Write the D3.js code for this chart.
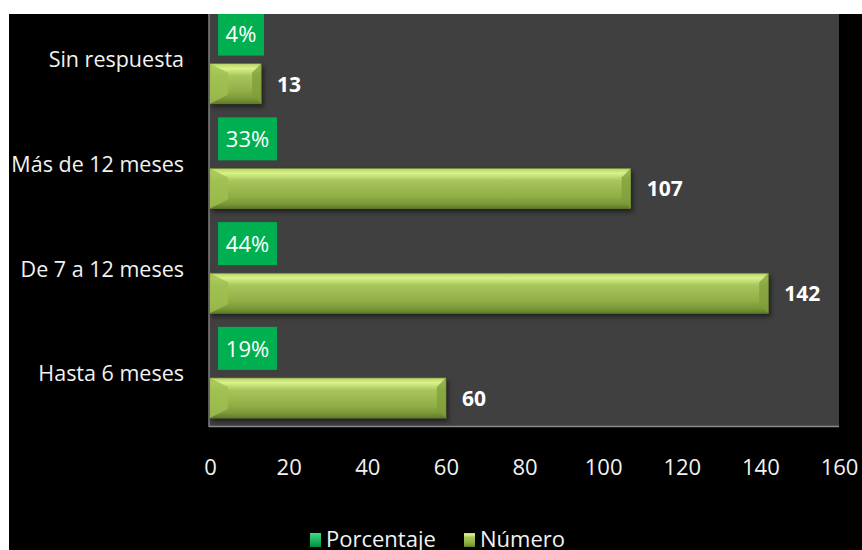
<!DOCTYPE html>
<html>
<head>
<meta charset="utf-8" />
<title>Tiempo</title>
<style>
html, body {
  margin: 0;
  padding: 0;
  background-color: #FFFFFF;
}
svg { display: block; }
text { font-family: "Open Sans", "Noto Sans", sans-serif; }
</style>
<script src="https://cdn.jsdelivr.net/npm/d3@7/dist/d3.min.js"></script>
</head>
<body>
<script>
// datos
var categorias = ["Sin respuesta", "Más de 12 meses", "De 7 a 12 meses", "Hasta 6 meses"];
var numero = [13, 107, 142, 60];
var porcentaje = [4, 33, 44, 19];
var series = ["Porcentaje", "Número"];
var ticks = [0, 20, 40, 60, 80, 100, 120, 140, 160];

var W = 862, H = 550;
var plot = {left: 209, right: 839, top: 7, bottom: 426};

var svg = d3.select("body").append("svg")
  .attr("width", W)
  .attr("height", H);

var defs = svg.append("defs");

var g1 = defs.append("linearGradient").attr("id", "olive")
  .attr("x1", 0).attr("y1", 0).attr("x2", 0).attr("y2", 1);
g1.append("stop").attr("offset", "0%").attr("stop-color", "#b7d36a");
g1.append("stop").attr("offset", "12%").attr("stop-color", "#d9f28a");
g1.append("stop").attr("offset", "30%").attr("stop-color", "#a9c65c");
g1.append("stop").attr("offset", "70%").attr("stop-color", "#8fae45");
g1.append("stop").attr("offset", "88%").attr("stop-color", "#7a9838");
g1.append("stop").attr("offset", "100%").attr("stop-color", "#5f7a28");

var g2 = defs.append("linearGradient").attr("id", "greenMk")
  .attr("x1", 0).attr("y1", 0).attr("x2", 0).attr("y2", 1);
g2.append("stop").attr("offset", "0%").attr("stop-color", "#3ddc84");
g2.append("stop").attr("offset", "100%").attr("stop-color", "#00903f");

var sh = defs.append("filter").attr("id", "sombra")
  .attr("x", "-5%").attr("y", "-20%").attr("width", "115%").attr("height", "160%");
sh.append("feDropShadow").attr("dx", 2).attr("dy", 3).attr("stdDeviation", 2.5)
  .attr("flood-color", "#000").attr("flood-opacity", 0.55);

// fondo
svg.append("rect").attr("x", 0).attr("y", 0).attr("width", W).attr("height", H).attr("fill", "#000");
svg.append("rect").attr("x", plot.left).attr("y", plot.top)
  .attr("width", plot.right - plot.left).attr("height", plot.bottom - plot.top)
  .attr("fill", "#404040");

var x = d3.scaleLinear().domain([0, 160]).range([plot.left + 1, plot.right]);
var y = d3.scaleBand().domain(categorias).range([plot.top, plot.bottom]);
var ys = d3.scaleBand().domain(series).range([0, y.bandwidth()])
  .paddingInner(0.17).paddingOuter(0.11);

// ejes
svg.append("line").attr("x1", plot.left).attr("x2", plot.left)
  .attr("y1", plot.top).attr("y2", plot.bottom + 1)
  .attr("stroke", "#7f7f7f").attr("stroke-width", 1.5);
svg.append("line").attr("x1", plot.left).attr("x2", plot.right)
  .attr("y1", plot.bottom + 0.5).attr("y2", plot.bottom + 0.5)
  .attr("stroke", "#8a8a8a").attr("stroke-width", 1.5);

var xAxis = svg.append("g")
  .attr("transform", "translate(0," + plot.bottom + ")")
  .call(d3.axisBottom(x).tickValues(ticks).tickSize(0).tickPadding(33));
xAxis.select(".domain").remove();
xAxis.selectAll("text")
  .attr("fill", "#f2f2f2")
  .style("font-size", "22px")
  .style("font-family", "'Open Sans', sans-serif");

var yAxis = svg.append("g")
  .attr("transform", "translate(" + plot.left + ",0)")
  .call(d3.axisLeft(y).tickSize(0).tickPadding(25));
yAxis.select(".domain").remove();
yAxis.selectAll("text")
  .attr("fill", "#f2f2f2")
  .style("font-size", "21.5px")
  .style("font-family", "'Open Sans', sans-serif")
  .attr("dy", "0.36em");

// barras Número
var bh = 40;
var filas = categorias.map(function(c, i) {
  return {cat: c, n: numero[i], p: porcentaje[i]};
});

var barras = svg.append("g").selectAll("g").data(filas).enter().append("g");

barras.append("rect")
  .attr("x", x(0))
  .attr("y", function(d) { return y(d.cat) + ys("Número"); })
  .attr("width", function(d) { return x(d.n) - x(0); })
  .attr("height", bh)
  .attr("fill", "url(#olive)")
  .attr("stroke", "#6a8530")
  .attr("stroke-width", 0.6)
  .attr("filter", "url(#sombra)");

// biseles laterales
var bev = 9;
barras.append("polygon")
  .attr("points", function(d) {
    var x0 = x(0), y0 = y(d.cat) + ys("Número");
    return [[x0, y0], [x0 + bev * 2, y0 + bev], [x0 + bev * 2, y0 + bh - bev], [x0, y0 + bh]].join(" ");
  })
  .attr("fill", "#9fbf50").attr("opacity", 0.8);
barras.append("polygon")
  .attr("points", function(d) {
    var x1 = x(d.n), y0 = y(d.cat) + ys("Número");
    return [[x1, y0], [x1 - bev, y0 + bev], [x1 - bev, y0 + bh - bev], [x1, y0 + bh]].join(" ");
  })
  .attr("fill", "#7f9d3a").attr("opacity", 0.75);

barras.append("text")
  .attr("x", function(d) { return x(d.n) + 16; })
  .attr("y", function(d) { return y(d.cat) + ys("Número") + bh / 2; })
  .attr("dy", "0.38em")
  .attr("fill", "#ffffff")
  .style("font-size", "21px")
  .style("font-weight", "bold")
  .text(function(d) { return d.n; });

// etiquetas Porcentaje
var ph = 43;
var etq = svg.append("g").selectAll("g").data(filas).enter().append("g");
etq.append("rect")
  .attr("x", x(0) + 8)
  .attr("y", function(d) { return y(d.cat) + ys("Porcentaje"); })
  .attr("width", function(d) { return d.p < 10 ? 46 : 59; })
  .attr("height", ph)
  .attr("fill", "#00b050");
etq.append("text")
  .attr("x", function(d) { return x(0) + 8 + (d.p < 10 ? 23 : 29.5); })
  .attr("y", function(d) { return y(d.cat) + ys("Porcentaje") + ph / 2; })
  .attr("dy", "0.38em")
  .attr("text-anchor", "middle")
  .attr("fill", "#ffffff")
  .style("font-size", "22px")
  .text(function(d) { return d.p + "%"; });

// leyenda
var ley = svg.append("g").attr("transform", "translate(310,533)");
var lx = [0, 154];
var lcol = ["url(#greenMk)", "url(#olive)"];
series.forEach(function(s, i) {
  ley.append("rect").attr("x", lx[i]).attr("y", 0).attr("width", 11).attr("height", 14)
    .attr("fill", lcol[i]);
  ley.append("text").attr("x", lx[i] + 16).attr("y", 6).attr("dy", "0.36em")
    .attr("fill", "#f2f2f2").style("font-size", "22px").text(s);
});

// bordes blancos
svg.append("rect").attr("x", 0).attr("y", 0).attr("width", W).attr("height", 14).attr("fill", "#fff");
svg.append("rect").attr("x", 0).attr("y", 0).attr("width", 9).attr("height", H).attr("fill", "#fff");
</script>
</body>
</html>
